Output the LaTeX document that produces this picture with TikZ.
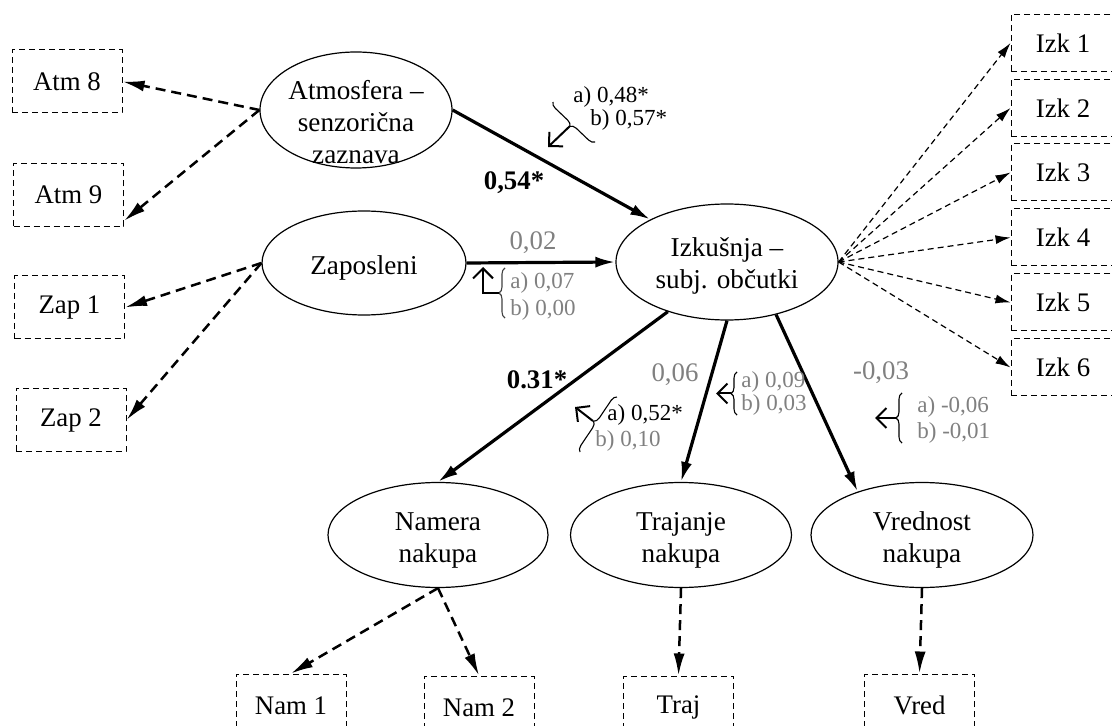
\documentclass[tikz,border=0pt]{standalone}
\usepackage{fontspec}
\setmainfont{Liberation Serif}
\usetikzlibrary{arrows.meta,decorations.pathreplacing,shapes.geometric}
\definecolor{coefgray}{RGB}{128,128,128}
\begin{document}
\begin{tikzpicture}[x=0.5pt,y=-0.5pt,
  latent/.style={ellipse,draw,line width=0.6pt,inner sep=0pt},
  caption/.style={align=center,inner sep=0pt,font=\fontsize{13.6}{16}\selectfont},
  obs/.style={draw,line width=0.5pt,dash pattern=on 3pt off 2pt,minimum width=55pt,minimum height=31.5pt,inner sep=0pt,font=\fontsize{13.4}{16}\selectfont},
  obsizk/.style={obs,minimum width=58pt,minimum height=28.5pt},
  loading/.style={line width=1.25pt,dash pattern=on 5pt off 3pt,-{Latex[length=11pt,width=5.5pt]}},
  loadingthin/.style={line width=0.6pt,dash pattern=on 3pt off 2pt,-{Latex[length=7.5pt,width=4.5pt]}},
  effect/.style={line width=1.6pt,-{Latex[length=10pt,width=5.5pt]}},
  coef/.style={inner sep=0pt,font=\fontsize{13.4}{16}\selectfont},
  subcoef/.style={inner sep=0pt,anchor=west,font=\fontsize{11.5}{14}\selectfont},
  curly/.style={decorate,decoration={brace,amplitude=3pt},line width=0.55pt},
  pointer/.style={line width=1pt,-{Straight Barb[length=5pt,width=10pt]}}
]
\useasboundingbox (0,0) rectangle (1112,726);
\clip (0,0) rectangle (1112,726);

% latent constructs
\node[latent,minimum width=96pt,minimum height=58pt] (atm) at (356,110) {};
\node[caption] (atmT) at (356,122) {Atmosfera –\\senzorična\\zaznava};
\node[latent,minimum width=102pt,minimum height=52pt] (zap) at (364,263) {};
\node[caption] (zapT) at (364,268) {Zaposleni};
\node[latent,minimum width=111pt,minimum height=58pt] (izk) at (727,262) {};
\node[caption] (izkT) at (727,266) {Izkušnja –\\subj. občutki};
\node[latent,minimum width=110pt,minimum height=52.5pt] (nam) at (438,535) {};
\node[caption] (namT) at (438,540) {Namera\\nakupa};
\node[latent,minimum width=110.5pt,minimum height=52.5pt] (tra) at (681,535) {};
\node[caption] (traT) at (681,540) {Trajanje\\nakupa};
\node[latent,minimum width=111pt,minimum height=52.5pt] (vre) at (922,535) {};
\node[caption] (vreT) at (922,540) {Vrednost\\nakupa};

% indicators
\node[obs] (atm8) at (67,81.5) {Atm 8};
\node[obs] (atm9) at (68.5,195) {Atm 9};
\node[obs] (zap1) at (69.5,307.5) {Zap 1};
\node[obs] (zap2) at (71,420) {Zap 2};
\node[obsizk] (izk1) at (1069,43) {\hspace*{-6pt}Izk 1};
\node[obsizk] (izk2) at (1069,108) {\hspace*{-6pt}Izk 2};
\node[obsizk] (izk3) at (1069,172.5) {\hspace*{-6pt}Izk 3};
\node[obsizk] (izk4) at (1069,237.5) {\hspace*{-6pt}Izk 4};
\node[obsizk] (izk5) at (1069,302.5) {\hspace*{-6pt}Izk 5};
\node[obsizk] (izk6) at (1069,367.5) {\hspace*{-6pt}Izk 6};
\node[obs] (nam1) at (291,705.5) {Nam 1};
\node[obs] (nam2) at (479,707.5) {Nam 2};
\node[obs] (traj) at (678.5,707.5) {Traj};
\node[obs] (vred) at (919.5,705.5) {Vred};

% measurement paths
\draw[loading] (atm.west) -- (atm8.east);
\draw[loading] (atm.west) -- (atm9.-25);
\draw[loading] (zap.west) -- (zap1.east);
\draw[loading] (zap.west) -- (zap2.east);
\foreach \k in {1,...,6} \draw[loadingthin] (izk.east) -- (izk\k.west);
\draw[loading] (nam.south) -- (nam1.north);
\draw[loading] (nam.south) -- (nam2.north);
\draw[loading] (tra.south) -- (traj.north);
\draw[loading] (vre.south) -- (vred.north);

% structural paths
\draw[effect] (atm.east) -- (izk);
\draw[effect] (zap.east) -- (izk.west);
\draw[effect] (izk.220) -- (nam.north);
\draw[effect] (izk.south) -- (tra.north);
\draw[effect] (izk.-47) -- (vre.146);

% path coefficients
\node[coef,font=\fontsize{13.4}{16}\selectfont\bfseries] (c1) at (514,183) {0,54*};
\node[coef,text=coefgray] (c2) at (533,243) {0,02};
\node[coef,font=\fontsize{13.4}{16}\selectfont\bfseries] (c3) at (537,380) {0.31*};
\node[coef,text=coefgray] (c4) at (675,375) {0,06};
\node[coef,text=coefgray] (c5) at (881,373) {-0,03};

% group coefficients a) and b)
\node[subcoef] (c1a) at (573,97) {a) 0,48*};
\node[subcoef] (c1b) at (590,120) {b) 0,57*};
\draw[curly] (595,142) -- (553,102);
\coordinate (t1) at (570,126);
\coordinate (p1) at (548,147);
\draw[pointer] (t1) -- (p1);

\node[subcoef,text=coefgray] (c2a) at (510,283) {a) 0,07};
\node[subcoef,text=coefgray] (c2b) at (510,310) {b) 0,00};
\draw[curly,black!75] (505,318) -- (505,268);
\coordinate (t2) at (499,293);
\coordinate (p2) at (483,267);
\draw[pointer] (t2) -| (p2);

\node[subcoef] (c3a) at (607,415) {a) 0,52*};
\node[subcoef,text=coefgray] (c3b) at (595,441) {b) 0,10};
\draw[curly] (580,452) -- (617,397);
\coordinate (t3) at (593,421);
\coordinate (p3) at (575,407);
\draw[pointer] (t3) -- (p3);

\node[subcoef,text=coefgray] (c4a) at (741,382) {a) 0,09};
\node[subcoef,text=coefgray] (c4b) at (741,405) {b) 0,03};
\draw[curly] (737,415) -- (737,372);
\coordinate (t4) at (731,393.5);
\coordinate (p4) at (716,393.5);
\draw[pointer] (t4) -- (p4);

\node[subcoef,text=coefgray] (c5a) at (917,407) {a) -0,06};
\node[subcoef,text=coefgray] (c5b) at (917,433) {b) -0,01};
\draw[curly] (902,443) -- (902,393);
\coordinate (t5) at (896,418);
\coordinate (p5) at (875,418);
\draw[pointer] (t5) -- (p5);
\end{tikzpicture}
\end{document}
